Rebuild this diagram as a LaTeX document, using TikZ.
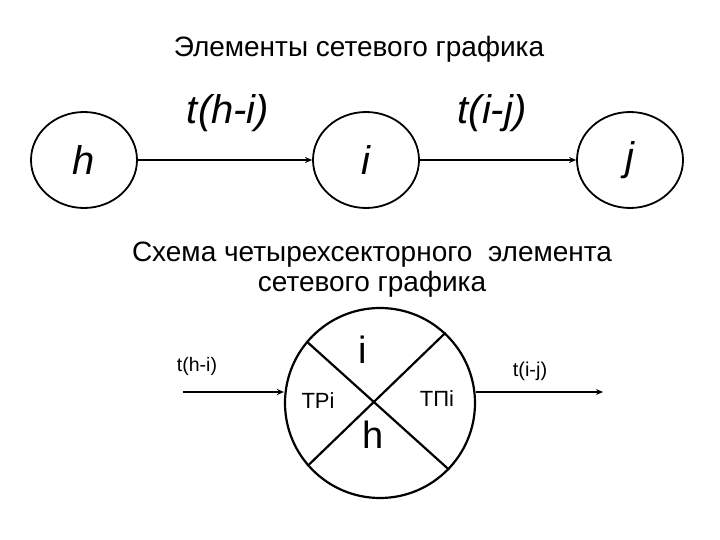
\documentclass[tikz,border=0pt]{standalone}
\usepackage{fontspec}
\setmainfont{Liberation Sans}
\usetikzlibrary{shapes.geometric,arrows.meta}
\begin{document}
\begin{tikzpicture}[x=1pt,y=-1pt,
  ev/.style={draw,ellipse,line width=1.8pt,minimum width=106pt,minimum height=96pt,inner sep=0pt,font=\fontsize{40}{40}\selectfont\itshape},
  big/.style={font=\fontsize{40}{40}\selectfont\itshape,inner sep=0pt},
  ttl/.style={font=\fontsize{28}{33}\selectfont,inner sep=0pt,align=center},
  arr/.style={-{Stealth[length=7pt,width=6pt]}},
  lab/.style={inner sep=0pt,anchor=base}]
\useasboundingbox (0,0) rectangle (720,540);
\node[ttl,anchor=base] (title) at (359,57) {Элементы сетевого графика};
\node[ev] (h) at (84,160) {h};
\node[ev] (i) at (366,160) {i};
\node[ev] (j) at (630,160) {j};
\draw[arr,line width=2.4pt] (h) -- (i);
\draw[arr,line width=1.6pt] (i) -- (j);
\node[big] (thi) at (228,113) {t(h-i)};
\node[big] (tij) at (492,113) {t(i-j)};
\node[ttl,anchor=base] (s1) at (372,261) {Схема четырехсекторного\ \ элемента};
\node[ttl,anchor=base] (s2) at (372,291) {сетевого графика};
\node[draw,circle,line width=2.2pt,minimum size=190pt,inner sep=0pt] (c) at (380,403) {};
\draw[line width=2.2pt] (c.140) -- (c.-44);
\draw[line width=2.2pt] (c.47) -- (c.221);
\node[lab,font=\fontsize{38}{38}\selectfont] (ci) at (363,363) {i};
\node[lab,font=\fontsize{38}{38}\selectfont] (ch) at (373,448) {h};
\node[lab,font=\fontsize{22}{22}\selectfont] (tr) at (318,408) {ТРi};
\node[lab,font=\fontsize{22}{22}\selectfont] (tp) at (437,406) {ТПi};
\coordinate (in) at (183,392);
\coordinate (out) at (603,392);
\draw[arr,line width=2.8pt] (in) -- (c.west |- in);
\draw[arr,line width=2.8pt] (c.east |- out) -- (out);
\node[lab,font=\fontsize{19.5}{20}\selectfont] (lhi) at (197,371) {t(h-i)};
\node[lab,font=\fontsize{20}{20}\selectfont] (lij) at (530,376) {t(i-j)};
\end{tikzpicture}
\end{document}
